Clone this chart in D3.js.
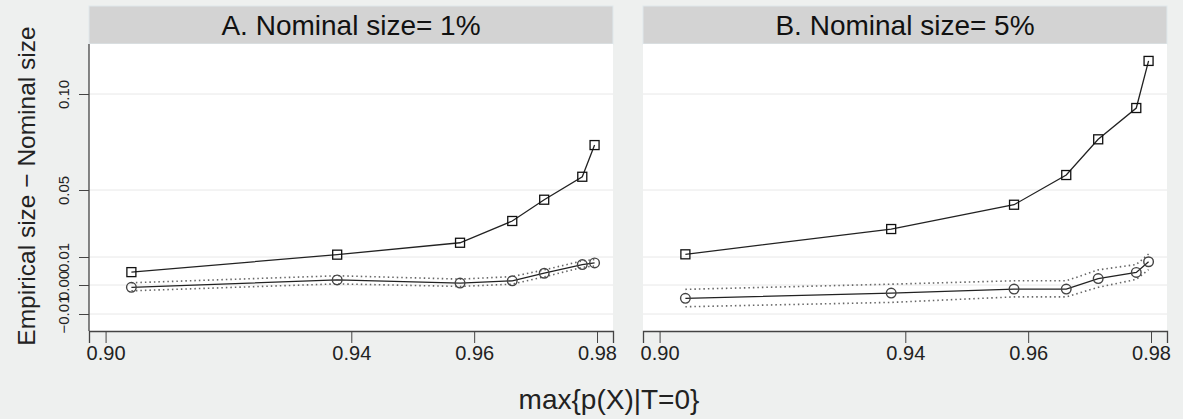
<!DOCTYPE html>
<html lang="en">
<head>
<meta charset="UTF-8">
<title>Empirical size - Nominal size</title>
<style>
    body { margin: 0; background: #eef0ef; }
    svg { display: block; font-family: "Liberation Sans", Arial, sans-serif; }
</style>
</head>
<body>
<svg id="chart" width="1183" height="419"></svg>
<script src="https://d3js.org/d3.v7.min.js"></script>
<script>
    // x positions (max{p(X)|T=0}) shared by both panels
    const xVals = [0.9042, 0.9377, 0.9577, 0.9662, 0.9714, 0.9776, 0.9796];
    const panelTitles = ["A. Nominal size= 1%", "B. Nominal size= 5%"];

    // panel A (nominal 1%)
    const squaresA = [0.0046, 0.0114, 0.0185, 0.0315, 0.0442, 0.0569, 0.0734];
    const circlesA = [-0.0008, 0.0018, 0.0007, 0.0015, 0.0042, 0.0073, 0.0079];
    const upperA = [0.0008, 0.0033, 0.0021, 0.0030, 0.0054, 0.0086, 0.0091];
    const lowerA = [-0.0020, 0.0004, -0.0005, 0.0003, 0.0029, 0.0063, 0.0068];

    // panel B (nominal 5%)
    const squaresB = [0.0116, 0.0267, 0.0412, 0.0578, 0.0764, 0.0927, 0.1172];
    const circlesB = [-0.0046, -0.0028, -0.0014, -0.0014, 0.0023, 0.0045, 0.0083];
    const upperB = [-0.0015, 0.0003, 0.0015, 0.0015, 0.0054, 0.0073, 0.0118];
    const lowerB = [-0.0075, -0.0060, -0.0041, -0.0041, -0.0008, 0.0020, 0.0055];

    const xTicks = [0.90, 0.94, 0.96, 0.98];
    const yTicks = [-0.01, 0, 0.01, 0.05, 0.10];
    const yTickLabels = ["\u22120.01", "0.00", "0.01", "0.05", "0.10"];

    const panels = [
        { title: panelTitles[0], sq: squaresA, ci: circlesA, hi: upperA, lo: lowerA },
        { title: panelTitles[1], sq: squaresB, ci: circlesB, hi: upperB, lo: lowerB }
    ];

    const svg = d3.select("#chart");
    svg.append("rect").attr("width", 1183).attr("height", 419).attr("fill", "#eef0ef");

    const plotTop = 44, plotBottom = 331, stripTop = 6;
    const panelX = [89, 643];
    const panelW = 524;

    // the original axis is not evenly spaced between its labels, so the scale is piecewise
    const y = d3.scaleLinear()
        .domain([-0.016, -0.01, 0, 0.01, 0.05, 0.10, 0.126])
        .range([plotBottom, 314, 285, 257, 190, 94, plotTop]);

    const x = d3.scaleLinear().domain([0.8973, 0.9826]).range([0, panelW]);

    panels.forEach((p, i) => {
        const g = svg.append("g").attr("transform", `translate(${panelX[i]},0)`);

        // strip
        g.append("rect")
            .attr("x", 0).attr("y", stripTop)
            .attr("width", panelW).attr("height", plotTop - stripTop)
            .attr("fill", "#d3d3d3").attr("stroke", "#dfe8ec").attr("stroke-width", 1);
        g.append("text")
            .attr("x", panelW / 2).attr("y", 35)
            .attr("text-anchor", "middle")
            .attr("font-size", 28).attr("fill", "#111")
            .text(p.title);

        // plot area
        g.append("rect")
            .attr("x", 0).attr("y", plotTop)
            .attr("width", panelW).attr("height", plotBottom - plotTop)
            .attr("fill", "#fff");

        g.selectAll(".grid")
            .data(yTicks)
            .join("line")
            .attr("x1", 0).attr("x2", panelW)
            .attr("y1", d => y(d)).attr("y2", d => y(d))
            .attr("stroke", "#e8e8e8").attr("stroke-width", 1);

        // x axis
        const xAxis = g.append("g")
            .attr("transform", `translate(0,${plotBottom})`)
            .call(d3.axisBottom(x).tickValues(xTicks).tickFormat(d3.format(".2f")).tickSize(12).tickPadding(3));
        xAxis.select(".domain").attr("stroke", "#444").attr("stroke-width", 1.3);
        xAxis.selectAll(".tick line").attr("stroke", "#444");
        xAxis.selectAll("text").attr("font-size", 20).attr("fill", "#222")
            .attr("font-family", "Liberation Sans, Arial, sans-serif");

        if (i === 0) {
            const yAxis = g.append("g")
                .call(d3.axisLeft(y).tickValues(yTicks).tickFormat((d, k) => yTickLabels[k]).tickSize(10).tickPadding(4));
            yAxis.select(".domain").attr("stroke", "#444").attr("stroke-width", 1.3)
                .attr("d", `M0,${plotTop}V${plotBottom}`);
            yAxis.selectAll(".tick line").attr("stroke", "#444");
            yAxis.selectAll("text")
                .attr("font-size", 15).attr("fill", "#222")
                .attr("font-family", "Liberation Sans, Arial, sans-serif")
                .attr("text-anchor", "middle")
                .attr("transform", "translate(-25,0) rotate(-90)")
                .attr("x", 0).attr("dy", "0.35em");
        }

        const line = d3.line().x((d, k) => x(xVals[k])).y(d => y(d));

        [p.hi, p.lo].forEach(band => {
            g.append("path").datum(band)
                .attr("d", line)
                .attr("fill", "none")
                .attr("stroke", "#666")
                .attr("stroke-width", 1.6)
                .attr("stroke-dasharray", "1.5,3");
        });

        g.append("path").datum(p.ci)
            .attr("d", line).attr("fill", "none")
            .attr("stroke", "#222").attr("stroke-width", 1.3);
        g.append("path").datum(p.sq)
            .attr("d", line).attr("fill", "none")
            .attr("stroke", "#222").attr("stroke-width", 1.3);

        g.selectAll(".circ")
            .data(p.ci)
            .join("circle")
            .attr("cx", (d, k) => x(xVals[k])).attr("cy", d => y(d))
            .attr("r", 4.8)
            .attr("fill", "none").attr("stroke", "#444").attr("stroke-width", 1.4);

        g.selectAll(".sq")
            .data(p.sq)
            .join("rect")
            .attr("x", (d, k) => x(xVals[k]) - 4.5).attr("y", d => y(d) - 4.5)
            .attr("width", 9).attr("height", 9)
            .attr("fill", "none").attr("stroke", "#111").attr("stroke-width", 1.3);
    });

    // axis titles
    svg.append("text")
        .attr("transform", "translate(35,186) rotate(-90)")
        .attr("text-anchor", "middle")
        .attr("font-size", 24.5).attr("fill", "#222")
        .text("Empirical size \u2212 Nominal size");

    svg.append("text")
        .attr("x", 609).attr("y", 409)
        .attr("text-anchor", "middle")
        .attr("font-size", 28).attr("fill", "#222")
        .text("max{p(X)|T=0}");
</script>
</body>
</html>
